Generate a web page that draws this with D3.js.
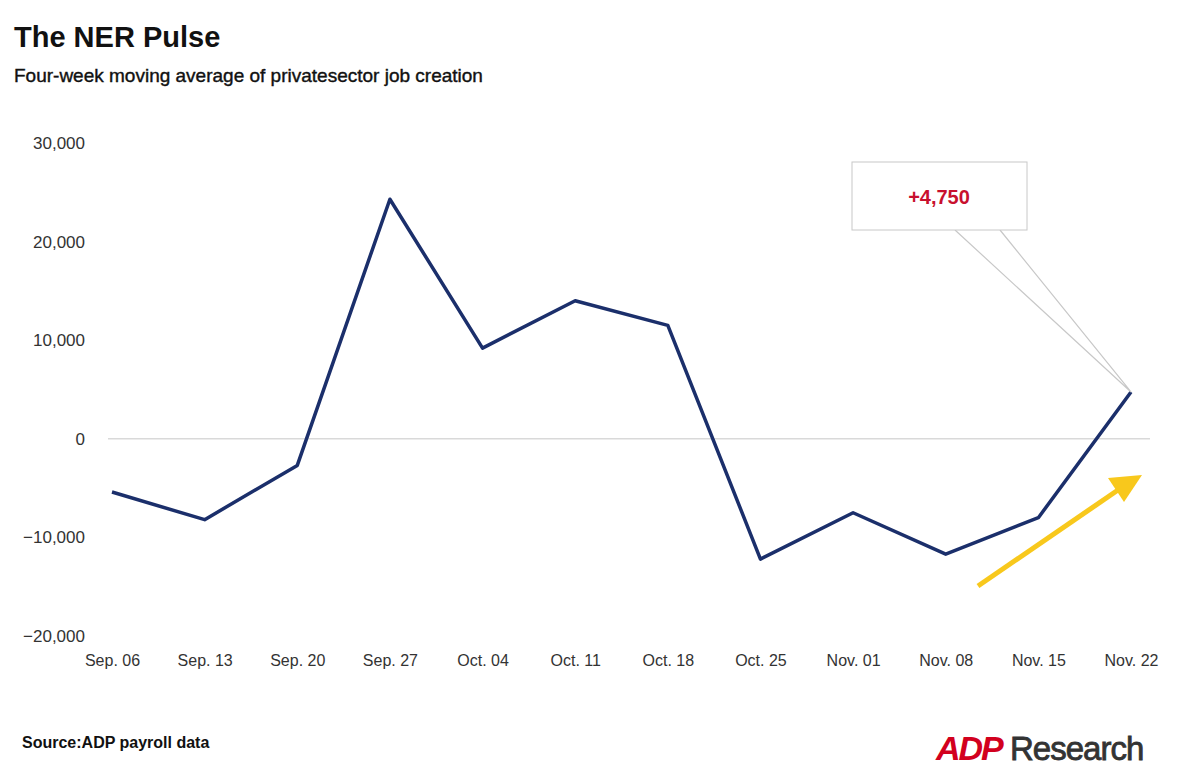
<!DOCTYPE html><html><head><meta charset="utf-8"><script src="https://cdn.jsdelivr.net/npm/d3@7"></script>
<style>body{margin:0;background:#fff;font-family:Arial,"Liberation Sans",sans-serif}</style></head><body><svg id="c" width="1200" height="780"></svg><script>
const categories=["Sep. 06","Sep. 13","Sep. 20","Sep. 27","Oct. 04","Oct. 11","Oct. 18","Oct. 25","Nov. 01","Nov. 08","Nov. 15","Nov. 22"];
const values=[-5400,-8200,-2700,24300,9200,14000,11500,-12200,-7500,-11700,-8000,4750];
const yTicks=[-20000,-10000,0,10000,20000,30000];
const svg=d3.select("#c");
const x=d3.scalePoint().domain(categories).range([112,1131]);
const y=d3.scaleLinear().domain([-20000,30000]).range([636,143]);
svg.append("text").attr("x",14).attr("y",47).attr("font-size",29).attr("font-weight","bold").attr("fill","#111").text("The NER Pulse");
svg.append("text").attr("x",14).attr("y",82).attr("font-size",19).attr("fill","#111").attr("stroke","#111").attr("stroke-width",0.4).text("Four-week moving average of privatesector job creation");
svg.append("line").attr("x1",108).attr("x2",1150).attr("y1",y(0)).attr("y2",y(0)).attr("stroke","#d9d9d9").attr("stroke-width",1.5);
const ya=svg.append("g").attr("transform","translate(88,0)").call(d3.axisLeft(y).tickValues(yTicks).tickSize(0).tickFormat(d3.format(",")));
ya.select(".domain").remove();ya.selectAll("text").attr("font-size",17).attr("fill","#333").attr("font-family","Arial,'Liberation Sans',sans-serif");
const xa=svg.append("g").attr("transform","translate(0,652)").call(d3.axisBottom(x).tickSize(0));
xa.select(".domain").remove();xa.selectAll("text").attr("font-size",16).attr("fill","#333").attr("font-family","Arial,'Liberation Sans',sans-serif");
svg.append("path").datum(values).attr("fill","none").attr("stroke","#1b2f6b").attr("stroke-width",3.5).attr("stroke-linejoin","round")
 .attr("d",d3.line().x((d,i)=>x(categories[i])).y(d=>y(d)));
const px=x(categories[11]),py=y(values[11]);
svg.append("path").attr("d",`M955,230L${px},${py}L1000,230`).attr("fill","none").attr("stroke","#c8c8c8").attr("stroke-width",1.2);
svg.append("rect").attr("x",852).attr("y",162).attr("width",175).attr("height",68).attr("fill","#fff").attr("stroke","#c8c8c8");
svg.append("text").attr("x",939).attr("y",204).attr("text-anchor","middle").attr("font-size",20).attr("font-weight","bold").attr("fill","#c8102e").text("+4,750");
svg.append("path").attr("d","M1142,475L1108,478L1124,502Z").attr("fill","#f8c81c");
svg.append("line").attr("x1",978).attr("y1",586).attr("x2",1118).attr("y2",490).attr("stroke","#f8c81c").attr("stroke-width",5);
svg.append("text").attr("x",22).attr("y",748).attr("font-size",16).attr("font-weight","bold").attr("fill","#111").text("Source:ADP payroll data");
svg.append("text").attr("x",936).attr("y",760).attr("font-size",34).attr("font-weight","bold").attr("font-style","italic").attr("fill","#d2001e").attr("letter-spacing",-2).text("ADP");
svg.append("text").attr("x",1010).attr("y",760).attr("font-size",33).attr("fill","#333").attr("stroke","#333").attr("stroke-width",0.8).attr("letter-spacing",-1).text("Research");
</script></body></html>
